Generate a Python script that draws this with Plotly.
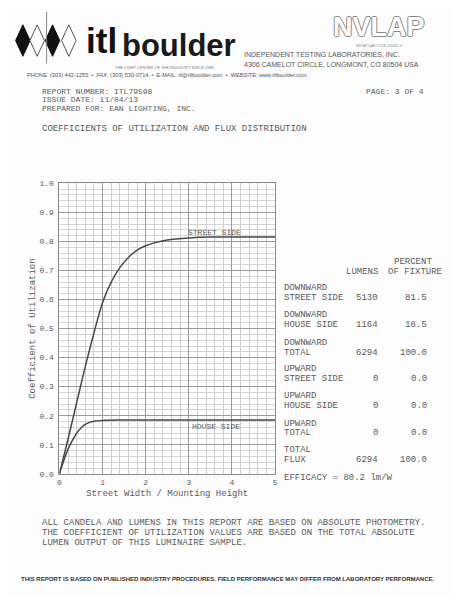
import plotly.graph_objects as go

# ---------------- data ----------------
street_x = [0, 0.2, 0.4, 0.6, 0.8, 1.0, 1.2, 1.4, 1.6, 1.8, 2.0, 2.2, 2.5, 3.0, 3.5, 4.0, 4.5, 5.0]
street_y = [0, 0.12, 0.245, 0.37, 0.485, 0.59, 0.66, 0.71, 0.745, 0.77, 0.785, 0.795, 0.805, 0.812, 0.815, 0.815, 0.815, 0.815]
house_x = [0, 0.1, 0.2, 0.3, 0.4, 0.5, 0.6, 0.7, 0.8, 1.0, 1.5, 2.0, 2.5, 3.0, 3.5, 4.0, 4.5, 5.0]
house_y = [0, 0.045, 0.085, 0.115, 0.14, 0.158, 0.17, 0.177, 0.181, 0.184, 0.185, 0.185, 0.185, 0.185, 0.185, 0.185, 0.185, 0.185]
x_ticks = [0, 1, 2, 3, 4, 5]
y_ticks = [0.0, 0.1, 0.2, 0.3, 0.4, 0.5, 0.6, 0.7, 0.8, 0.9, 1.0]

row_heads = ["DOWNWARD", "DOWNWARD", "DOWNWARD", "UPWARD", "UPWARD", "UPWARD", "TOTAL"]
row_names = ["STREET SIDE", "HOUSE SIDE", "TOTAL", "STREET SIDE", "HOUSE SIDE", "TOTAL", "FLUX"]
lumens = ["5130", "1164", "6294", "0", "0", "0", "6294"]
percent = ["81.5", "18.5", "100.0", "0.0", "0.0", "0.0", "100.0"]

# the page body has an 8px margin, so the figure covers window pixels 8..460 x 8..596
OFF = 8
W, H = 460 - OFF, 596 - OFF
def px(x):
    return (x - OFF) / W
def py(y):
    return 1 - (y - OFF) / H

MONO = "Liberation Mono, Courier New, monospace"
SANS = "Liberation Sans, Arial, sans-serif"
TXT = "#5a5a5a"

fig = go.Figure()
fig.add_trace(go.Scatter(x=street_x, y=street_y, mode="lines", line=dict(color="#484848", width=1.5, shape="spline"), hoverinfo="skip", showlegend=False))
fig.add_trace(go.Scatter(x=house_x, y=house_y, mode="lines", line=dict(color="#484848", width=1.5, shape="spline"), hoverinfo="skip", showlegend=False))

fig.update_layout(
    width=W, height=H, margin=dict(l=0, r=0, t=0, b=0),
    paper_bgcolor="#fdfdfd", plot_bgcolor="white",
    xaxis=dict(domain=[px(58), px(276)], range=[0, 5], tickvals=x_ticks, ticktext=[str(v) for v in x_ticks],
               showgrid=True, gridcolor="#9a9a9a", gridwidth=1,
               minor=dict(dtick=0.2, showgrid=True, gridcolor="#cdcdcd", gridwidth=1),
               zeroline=False, showline=True, linecolor="#8a8a8a", linewidth=1, mirror=True,
               ticks="", ticklabelstandoff=1,
               tickfont=dict(family=MONO, size=8, color=TXT),
               title=dict(text="Street Width / Mounting Height", standoff=3, font=dict(family=MONO, size=9, color=TXT))),
    yaxis=dict(domain=[py(477), py(182)], range=[0, 1.0], tickvals=y_ticks, ticktext=["%.1f" % v for v in y_ticks],
               showgrid=True, gridcolor="#9a9a9a", gridwidth=1,
               minor=dict(dtick=0.02, showgrid=True, gridcolor="#d4d4d4", gridwidth=1),
               zeroline=False, showline=True, linecolor="#8a8a8a", linewidth=1, mirror=True,
               ticks="", ticklabelstandoff=3,
               tickfont=dict(family=MONO, size=8, color=TXT),
               title=dict(text="Coefficient of Utilization", standoff=2, font=dict(family=MONO, size=9, color=TXT))),
)

ann = []
def t(x, y, s, size=9, color=TXT, family=MONO, xanchor="left", yanchor="middle", **kw):
    ann.append(dict(x=px(x), y=py(y), xref="paper", yref="paper", text=s, showarrow=False,
                    xanchor=xanchor, yanchor=yanchor, font=dict(family=family, size=size, color=color), **kw))

# curve labels (data coords)
ann.append(dict(x=3.6, y=0.832, xref="x", yref="y", text="STREET SIDE", showarrow=False,
                font=dict(family=MONO, size=8, color=TXT)))
ann.append(dict(x=3.63, y=0.163, xref="x", yref="y", text="HOUSE SIDE", showarrow=False,
                font=dict(family=MONO, size=8, color=TXT)))

# header
t(83, 37, "<b>itl</b>", size=35, color="#111", family=SANS)
t(119, 42, "<b>boulder</b>", size=31, color="#1a1a1a", family=SANS)
t(112, 64.5, "THE LIGHT CENTER OF THE INDUSTRY SINCE 1983", size=4, color="#777", family=SANS)
t(243, 51, "INDEPENDENT TESTING LABORATORIES, INC.", size=7, color="#555", family=SANS)
t(243, 61, "4306 CAMELOT CIRCLE, LONGMONT, CO 80504 USA", size=7, color="#555", family=SANS)
t(23, 72, "PHONE: (303) 442-1255  \u2022  FAX: (303) 530-0714  \u2022  E-MAIL: itl@itlboulder.com  \u2022  WEBSITE: www.itlboulder.com",
  size=5.6, color="#555", family=SANS)
ann.append(dict(x=px(381), y=py(23), xref="paper", yref="paper", text="<b>NVLAP</b>", showarrow=False,
                xanchor="center", yanchor="middle",
                font=dict(family=SANS, size=27, color="#ffffff",
                          shadow="1px 0 0 #888, -1px 0 0 #888, 0 1px 0 #888, 0 -1px 0 #888")))
t(381, 43, "NVLAP LAB CODE 100402-0", size=3.5, color="#888", family=SANS, xanchor="center")

# report info
t(38, 88.5, "REPORT NUMBER: ITL79598", size=8)
t(38, 97, "ISSUE DATE: 11/04/13", size=8)
t(38, 105.5, "PREPARED FOR: EAN LIGHTING, INC.", size=8)
t(366, 89, "PAGE: 3 OF 4", size=8)
t(38, 127, "COEFFICIENTS OF UTILIZATION AND FLUX DISTRIBUTION")

# table
t(382, 272, "LUMENS", xanchor="right")
t(437, 262, "PERCENT", xanchor="right")
t(447, 272, "OF FIXTURE", xanchor="right")
row_y = [288, 316, 344, 371, 398, 426, 453]
for i in range(len(row_names)):
    y0 = row_y[i]
    t(283, y0, row_heads[i])
    t(283, y0 + 10, row_names[i])
    t(382, y0 + 10, lumens[i], xanchor="right")
    t(432, y0 + 10, percent[i], xanchor="right")
t(283, 481, "EFFICACY = 80.2 lm/W")

# footer text
t(38, 527, "ALL CANDELA AND LUMENS IN THIS REPORT ARE BASED ON ABSOLUTE PHOTOMETRY.")
t(38, 537, "THE COEFFICIENT OF UTILIZATION VALUES ARE BASED ON THE TOTAL ABSOLUTE")
t(38, 547, "LUMEN OUTPUT OF THIS LUMINAIRE SAMPLE.")
t(228, 584, "<b>THIS REPORT IS BASED ON PUBLISHED INDUSTRY PROCEDURES. FIELD PERFORMANCE MAY DIFFER FROM LABORATORY PERFORMANCE.</b>",
  size=6.0, color="#333", family=SANS, xanchor="center")

fig.update_layout(annotations=ann)

# logo diamonds and page edge
shapes = []
def diamond(cx, cy, hw, hh, fill, line):
    path = "M {} {} L {} {} L {} {} L {} {} Z".format(
        px(cx), py(cy - hh), px(cx + hw), py(cy), px(cx), py(cy + hh), px(cx - hw), py(cy))
    shapes.append(dict(type="path", xref="paper", yref="paper", path=path,
                       fillcolor=fill, line=dict(color=line, width=1)))
diamond(21, 37, 7.3, 16, "#111", "#111")
diamond(35.5, 37, 7.3, 16, "white", "#555")
diamond(51, 37, 7.3, 16, "#111", "#111")
diamond(67.5, 37, 7.3, 16, "white", "#555")
shapes.append(dict(type="line", xref="paper", yref="paper", x0=px(45), x1=px(45), y0=py(8), y1=py(60),
                   line=dict(color="#888", width=1)))
shapes.append(dict(type="line", xref="paper", yref="paper", x0=px(456), x1=px(456), y0=py(8), y1=py(596),
                   line=dict(color="#777", width=1)))
fig.update_layout(shapes=shapes)

fig.write_html("out.html")
